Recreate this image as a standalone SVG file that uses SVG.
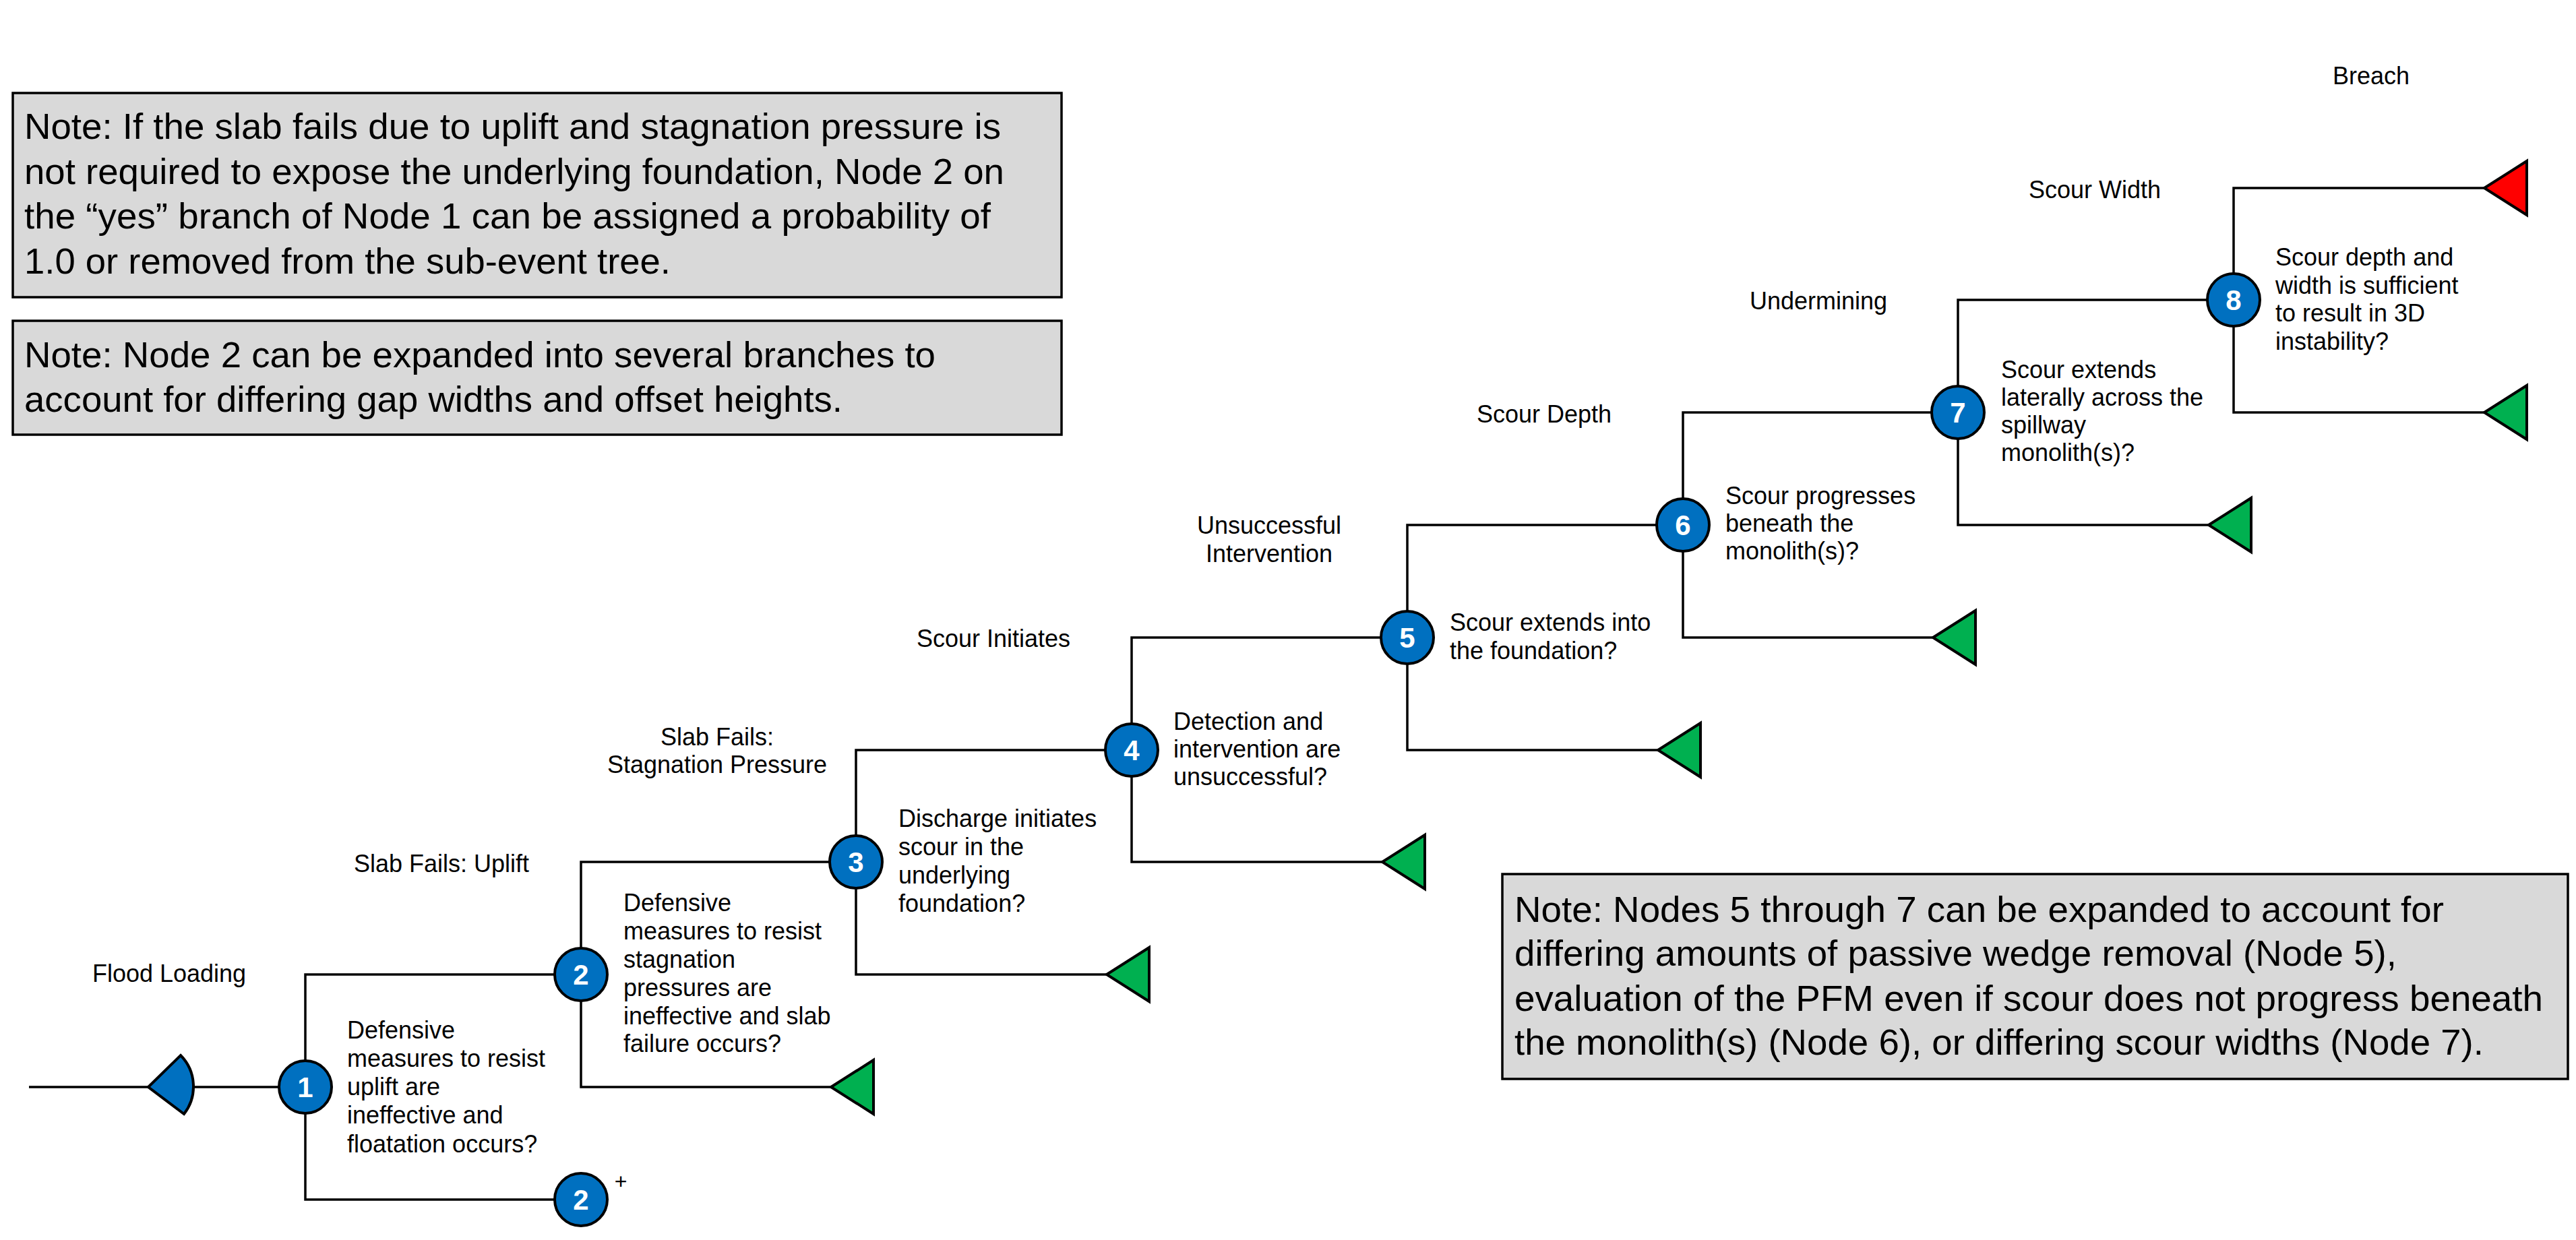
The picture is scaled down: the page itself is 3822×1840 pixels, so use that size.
<svg xmlns="http://www.w3.org/2000/svg" width="3822" height="1840" viewBox="0 0 3822 1840">
<style>
.bg{fill:#ffffff}
.ln{stroke:#000;stroke-width:3.5;fill:none}
.note{fill:#d9d9d9;stroke:#000;stroke-width:3.5}
.nt{font-family:"Liberation Sans",Arial,sans-serif;font-size:53px;fill:#000}
.lab{font-family:"Liberation Sans",Arial,sans-serif;font-size:36px;fill:#000;text-anchor:middle}
.q{font-family:"Liberation Sans",Arial,sans-serif;font-size:36px;fill:#000}
.nc{fill:#0070c0;stroke:#000;stroke-width:4}
.num{font-family:"Liberation Sans",Arial,sans-serif;font-size:42px;font-weight:bold;fill:#fff;text-anchor:middle}
.g{fill:#00b050;stroke:#000;stroke-width:4;stroke-linejoin:miter}
.r{fill:#ff0000;stroke:#000;stroke-width:4}
.in{fill:#0070c0;stroke:#000;stroke-width:4;stroke-linejoin:miter}
</style>
<rect class="bg" x="0" y="0" width="3822" height="1840"/>

<g id="notes">
<g id="note1">
<rect class="note" x="19" y="138" width="1556" height="303"/>
<text class="nt" x="36" y="206" textLength="1449" lengthAdjust="spacingAndGlyphs">Note: If the slab fails due to uplift and stagnation pressure is</text>
<text class="nt" x="36" y="273" textLength="1454" lengthAdjust="spacingAndGlyphs">not required to expose the underlying foundation, Node 2 on</text>
<text class="nt" x="36" y="339" textLength="1434" lengthAdjust="spacingAndGlyphs">the “yes” branch of Node 1 can be assigned a probability of</text>
<text class="nt" x="36" y="406" textLength="959" lengthAdjust="spacingAndGlyphs">1.0 or removed from the sub-event tree.</text>
</g>
<g id="note2">
<rect class="note" x="19" y="476" width="1556" height="169"/>
<text class="nt" x="36" y="545" textLength="1352" lengthAdjust="spacingAndGlyphs">Note: Node 2 can be expanded into several branches to</text>
<text class="nt" x="36" y="611" textLength="1214" lengthAdjust="spacingAndGlyphs">account for differing gap widths and offset heights.</text>
</g>
<g id="note3">
<rect class="note" x="2229" y="1297" width="1581" height="304"/>
<text class="nt" x="2247" y="1368" textLength="1379" lengthAdjust="spacingAndGlyphs">Note: Nodes 5 through 7 can be expanded to account for</text>
<text class="nt" x="2247" y="1433" textLength="1309" lengthAdjust="spacingAndGlyphs">differing amounts of passive wedge removal (Node 5),</text>
<text class="nt" x="2247" y="1500" textLength="1526" lengthAdjust="spacingAndGlyphs">evaluation of the PFM even if scour does not progress beneath</text>
<text class="nt" x="2247" y="1565" textLength="1438" lengthAdjust="spacingAndGlyphs">the monolith(s) (Node 6), or differing scour widths (Node 7).</text>
</g>
</g>

<g id="labels">
<text class="lab" x="251" y="1457">Flood Loading</text>
<text class="lab" x="655" y="1294">Slab Fails: Uplift</text>
<text class="lab" x="1064" y="1106">Slab Fails:</text>
<text class="lab" x="1064" y="1147">Stagnation Pressure</text>
<text class="lab" x="1474" y="960">Scour Initiates</text>
<text class="lab" x="1883" y="792">Unsuccessful</text>
<text class="lab" x="1883" y="834">Intervention</text>
<text class="lab" x="2291" y="627">Scour Depth</text>
<text class="lab" x="2698" y="459">Undermining</text>
<text class="lab" x="3108" y="294">Scour Width</text>
<text class="lab" x="3518" y="125">Breach</text>
</g>

<g id="connectors">
<path class="ln" d="M43 1613H220M285 1613H453"/>
<path class="ln" d="M862 1446H453V1780H862"/>
<path class="ln" d="M1270 1279H862V1613H1233"/>
<path class="ln" d="M1679 1113H1270V1446H1642"/>
<path class="ln" d="M2088 946H1679V1279H2051"/>
<path class="ln" d="M2497 779H2088V1113H2460"/>
<path class="ln" d="M2905 612H2497V946H2868"/>
<path class="ln" d="M3314 445H2905V779H3277"/>
<path class="ln" d="M3686 279H3314V612H3686"/>
</g>

<g id="input">
<path class="in" d="M220 1613L268 1566A66 66 0 0 1 273 1653Z"/>
</g>

<g id="endpoints">
<path class="g" d="M1233 1613L1296 1573V1653Z"/>
<path class="g" d="M1642 1446L1705 1406V1486Z"/>
<path class="g" d="M2051 1279L2114 1239V1319Z"/>
<path class="g" d="M2460 1113L2523 1073V1153Z"/>
<path class="g" d="M2868 946L2931 906V986Z"/>
<path class="g" d="M3277 779L3340 739V819Z"/>
<path class="g" d="M3686 612L3749 572V652Z"/>
<path class="r" d="M3686 279L3749 239V319Z"/>
</g>

<g id="node1">
<circle class="nc" cx="453" cy="1613" r="39"/>
<text class="num" x="453" y="1628">1</text>
<text class="q" x="515" y="1541">Defensive</text>
<text class="q" x="515" y="1583">measures to resist</text>
<text class="q" x="515" y="1625">uplift are</text>
<text class="q" x="515" y="1667">ineffective and</text>
<text class="q" x="515" y="1710">floatation occurs?</text>
</g>
<g id="node2">
<circle class="nc" cx="862" cy="1446" r="39"/>
<text class="num" x="862" y="1461">2</text>
<text class="q" x="925" y="1352">Defensive</text>
<text class="q" x="925" y="1394">measures to resist</text>
<text class="q" x="925" y="1436">stagnation</text>
<text class="q" x="925" y="1478">pressures are</text>
<text class="q" x="925" y="1520">ineffective and slab</text>
<text class="q" x="925" y="1561">failure occurs?</text>
</g>
<g id="node2b">
<circle class="nc" cx="862" cy="1780" r="39"/>
<text class="num" x="862" y="1795">2</text>
<text class="q" x="921" y="1764" style="font-size:32px" text-anchor="middle">+</text>
</g>
<g id="node3">
<circle class="nc" cx="1270" cy="1279" r="39"/>
<text class="num" x="1270" y="1294">3</text>
<text class="q" x="1333" y="1227">Discharge initiates</text>
<text class="q" x="1333" y="1269">scour in the</text>
<text class="q" x="1333" y="1311">underlying</text>
<text class="q" x="1333" y="1353">foundation?</text>
</g>
<g id="node4">
<circle class="nc" cx="1679" cy="1113" r="39"/>
<text class="num" x="1679" y="1128">4</text>
<text class="q" x="1741" y="1083">Detection and</text>
<text class="q" x="1741" y="1124">intervention are</text>
<text class="q" x="1741" y="1165">unsuccessful?</text>
</g>
<g id="node5">
<circle class="nc" cx="2088" cy="946" r="39"/>
<text class="num" x="2088" y="961">5</text>
<text class="q" x="2151" y="936">Scour extends into</text>
<text class="q" x="2151" y="978">the foundation?</text>
</g>
<g id="node6">
<circle class="nc" cx="2497" cy="779" r="39"/>
<text class="num" x="2497" y="794">6</text>
<text class="q" x="2560" y="748">Scour progresses</text>
<text class="q" x="2560" y="789">beneath the</text>
<text class="q" x="2560" y="830">monolith(s)?</text>
</g>
<g id="node7">
<circle class="nc" cx="2905" cy="612" r="39"/>
<text class="num" x="2905" y="627">7</text>
<text class="q" x="2969" y="561">Scour extends</text>
<text class="q" x="2969" y="602">laterally across the</text>
<text class="q" x="2969" y="643">spillway</text>
<text class="q" x="2969" y="684">monolith(s)?</text>
</g>
<g id="node8">
<circle class="nc" cx="3314" cy="445" r="39"/>
<text class="num" x="3314" y="460">8</text>
<text class="q" x="3376" y="394">Scour depth and</text>
<text class="q" x="3376" y="436">width is sufficient</text>
<text class="q" x="3376" y="477">to result in 3D</text>
<text class="q" x="3376" y="519">instability?</text>
</g>
</svg>
